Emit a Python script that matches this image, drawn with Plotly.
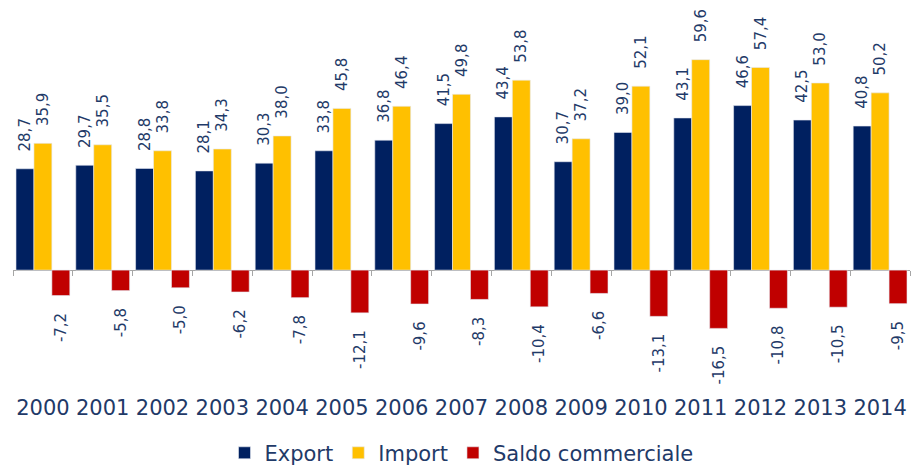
import plotly.graph_objects as go

years = ["2000", "2001", "2002", "2003", "2004", "2005", "2006", "2007",
         "2008", "2009", "2010", "2011", "2012", "2013", "2014"]
export_vals = [28.7, 29.7, 28.8, 28.1, 30.3, 33.8, 36.8, 41.5, 43.4, 30.7, 39.0, 43.1, 46.6, 42.5, 40.8]
import_vals = [35.9, 35.5, 33.8, 34.3, 38.0, 45.8, 46.4, 49.8, 53.8, 37.2, 52.1, 59.6, 57.4, 53.0, 50.2]
saldo_vals = [-7.2, -5.8, -5.0, -6.2, -7.8, -12.1, -9.6, -8.3, -10.4, -6.6, -13.1, -16.5, -10.8, -10.5, -9.5]

TXT = "#1F3A68"
FONT = "DejaVu Sans"
PAD = "\u00a0\u00a0\u00a0"


def fmt(v):
    s = f"{v:.1f}".replace(".", ",")
    return PAD + s if v >= 0 else s + PAD


fig = go.Figure()
for name, vals, col in [("Export", export_vals, "#002060"),
                        ("Import", import_vals, "#FFC000"),
                        ("Saldo commerciale", saldo_vals, "#C00000")]:
    fig.add_trace(go.Bar(
        x=years, y=vals, name=name,
        marker=dict(color=col, line=dict(color="#E6EAF2", width=0.6)),
        text=[fmt(v) for v in vals], textposition="outside", textangle=-90,
        textfont=dict(family=FONT, size=15, color=TXT),
        cliponaxis=False, constraintext="none",
    ))

ymin, ymax = -34.8, 76.5
zero_frac = -ymin / (ymax - ymin)

# helper axis carrying the category tick marks along the zero line
fig.add_trace(go.Scatter(x=[0], y=[0], xaxis="x2", mode="markers",
                         marker=dict(opacity=0), showlegend=False, hoverinfo="skip"))

fig.update_layout(
    width=916, height=466,
    margin=dict(l=13, r=6, t=0, b=73, autoexpand=False),
    paper_bgcolor="white", plot_bgcolor="white",
    barmode="group", bargap=0.1, bargroupgap=0,
    font=dict(family=FONT, color=TXT),
    showlegend=True,
    legend=dict(orientation="h", x=0.5, xanchor="center", y=-0.153, yanchor="middle",
                font=dict(family=FONT, size=21, color=TXT), itemwidth=30,
                traceorder="normal"),
    xaxis=dict(type="category", showgrid=False, showline=False, ticks="",
               automargin=False,
               tickfont=dict(family=FONT, size=21, color=TXT), range=[-0.5, 14.5]),
    xaxis2=dict(overlaying="x", anchor="free", position=zero_frac, range=[-0.5, 14.5],
                tickmode="linear", tick0=-0.5, dtick=1, ticks="outside", ticklen=5,
                tickcolor="#A6A6A6", showticklabels=False, showgrid=False,
                showline=False, zeroline=False, automargin=False),
    yaxis=dict(range=[ymin, ymax], visible=True, showgrid=False, showticklabels=False,
               automargin=False,
               zeroline=True, zerolinecolor="#A6A6A6", zerolinewidth=1, showline=False),
)

fig.write_html("out.html", config={"displayModeBar": False},
               post_script="document.body.style.margin='0px';")
